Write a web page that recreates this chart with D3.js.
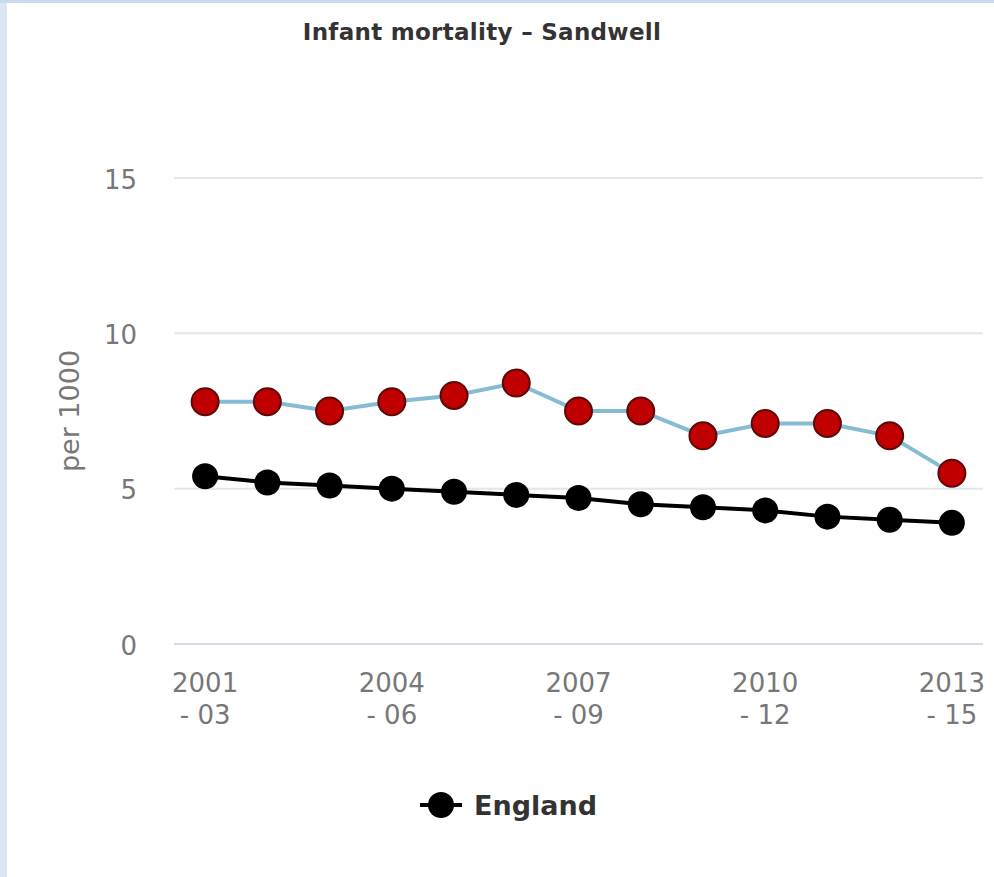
<!DOCTYPE html>
<html>
<head>
<meta charset="utf-8">
<script src="https://cdn.jsdelivr.net/npm/d3@7"></script>
<style>
  html, body { margin: 0; padding: 0; background: #ffffff; }
  svg { display: block; }
</style>
</head>
<body>
<svg id="chart" width="994" height="877"></svg>
<script>
// ---- data ----
const categories = ["2001 - 03","2002 - 04","2003 - 05","2004 - 06","2005 - 07","2006 - 08","2007 - 09","2008 - 10","2009 - 11","2010 - 12","2011 - 13","2012 - 14","2013 - 15"];
const sandwell = [7.8, 7.8, 7.5, 7.8, 8.0, 8.4, 7.5, 7.5, 6.7, 7.1, 7.1, 6.7, 5.5];
const england  = [5.4, 5.2, 5.1, 5.0, 4.9, 4.8, 4.7, 4.5, 4.4, 4.3, 4.1, 4.0, 3.9];
const yTicks = [0, 5, 10, 15];
const labelEvery = 3;
const titleText = "Infant mortality \u2013 Sandwell";
const yTitle = "per 1000";
const legendName = "England";

// ---- layout ----
const svg = d3.select("#chart");
const W = 994, H = 877;
const plot = { left: 174, right: 983, top: 178, bottom: 644 };
const font = "'DejaVu Sans', sans-serif";

// page frame strips
svg.append("rect").attr("x", 0).attr("y", 0).attr("width", W).attr("height", H).attr("fill", "#ffffff");
svg.append("rect").attr("x", 0).attr("y", 0).attr("width", 7).attr("height", H).attr("fill", "#dce7f5");
svg.append("rect").attr("x", 0).attr("y", 0).attr("width", W).attr("height", 3).attr("fill", "#c6dbf1");

const x = d3.scalePoint().domain(categories).range([plot.left, plot.right]).padding(0.5);
const y = d3.scaleLinear().domain([0, 15]).range([plot.bottom, plot.top]);

// gridlines
svg.append("g").selectAll("line").data(yTicks.filter(d => d !== 0)).join("line")
  .attr("x1", plot.left).attr("x2", plot.right)
  .attr("y1", d => y(d)).attr("y2", d => y(d))
  .attr("stroke", "#e6e6e6").attr("stroke-width", 2);

// x axis line
svg.append("line")
  .attr("x1", plot.left).attr("x2", plot.right)
  .attr("y1", y(0)).attr("y2", y(0))
  .attr("stroke", "#d4dceb").attr("stroke-width", 2);

// y axis labels (via d3 axis, domain hidden)
const yAxis = d3.axisLeft(y).tickValues(yTicks).tickSize(0).tickPadding(0).tickFormat(d3.format("d"));
const yg = svg.append("g").attr("transform", "translate(137,2)").call(yAxis);
yg.select(".domain").remove();
yg.selectAll("text").attr("font-family", font).attr("font-size", 26).attr("fill", "#777777");

// x axis labels
const xg = svg.append("g");
categories.forEach((c, i) => {
  if (i % labelEvery !== 0) return;
  const parts = c.split(" - ");
  const t = xg.append("text")
    .attr("x", x(c)).attr("y", 692)
    .attr("text-anchor", "middle")
    .attr("font-family", font).attr("font-size", 26).attr("fill", "#777777");
  t.append("tspan").attr("x", x(c)).attr("y", 692).text(parts[0]);
  t.append("tspan").attr("x", x(c)).attr("y", 724).text("- " + parts[1]);
});

// y axis title
svg.append("text")
  .attr("transform", "translate(79,411) rotate(-90)")
  .attr("text-anchor", "middle")
  .attr("font-family", font).attr("font-size", 27).attr("fill", "#777777")
  .text(yTitle);

// title
svg.append("text")
  .attr("x", 482).attr("y", 40)
  .attr("text-anchor", "middle")
  .attr("font-family", font).attr("font-size", 23).attr("font-weight", "bold")
  .attr("letter-spacing", 0.3)
  .attr("fill", "#333333")
  .text(titleText);

const line = d3.line().x((d, i) => x(categories[i])).y(d => y(d));

// England series
svg.append("path").datum(england)
  .attr("d", line).attr("fill", "none")
  .attr("stroke", "#000000").attr("stroke-width", 4);
svg.append("g").selectAll("circle").data(england).join("circle")
  .attr("cx", (d, i) => x(categories[i])).attr("cy", d => y(d))
  .attr("r", 13).attr("fill", "#000000");

// Sandwell series
svg.append("path").datum(sandwell)
  .attr("d", line).attr("fill", "none")
  .attr("stroke", "#86bcd3").attr("stroke-width", 4);
svg.append("g").selectAll("circle").data(sandwell).join("circle")
  .attr("cx", (d, i) => x(categories[i])).attr("cy", d => y(d))
  .attr("r", 13.5).attr("fill", "#c00000")
  .attr("stroke", "#5a0a0a").attr("stroke-width", 2);

// legend
const lg = svg.append("g");
lg.append("line").attr("x1", 420).attr("x2", 462).attr("y1", 805).attr("y2", 805)
  .attr("stroke", "#000000").attr("stroke-width", 4);
lg.append("circle").attr("cx", 441).attr("cy", 805).attr("r", 13).attr("fill", "#000000");
lg.append("text").attr("x", 474).attr("y", 815)
  .attr("font-family", font).attr("font-size", 27).attr("font-weight", "bold")
  .attr("fill", "#333333").text(legendName);
</script>
</body>
</html>
